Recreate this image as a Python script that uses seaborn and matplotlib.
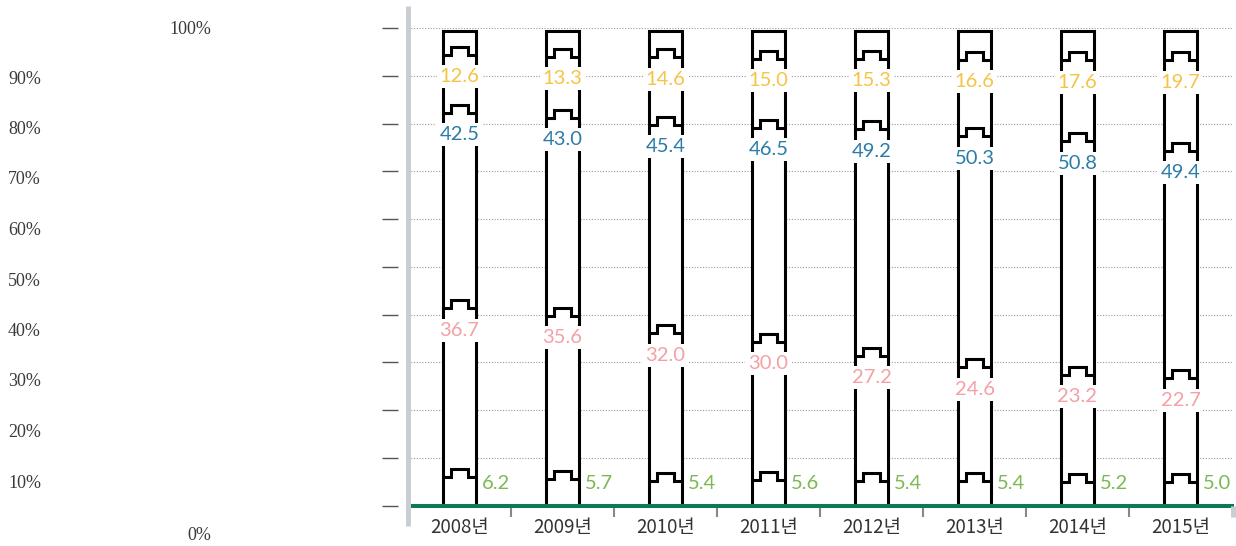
import numpy as np
import matplotlib
matplotlib.use("Agg")
import matplotlib.pyplot as plt
from matplotlib.lines import Line2D
import seaborn as sns

# ---- data ----
years = ["2008년", "2009년", "2010년", "2011년", "2012년", "2013년", "2014년", "2015년"]
green = [6.2, 5.7, 5.4, 5.6, 5.4, 5.4, 5.2, 5.0]
pink = [36.7, 35.6, 32.0, 30.0, 27.2, 24.6, 23.2, 22.7]
blue = [42.5, 43.0, 45.4, 46.5, 49.2, 50.3, 50.8, 49.4]
yellow = [12.6, 13.3, 14.6, 15.0, 15.3, 16.6, 17.6, 19.7]
ytick_labels = ["100%", "90%", "80%", "70%", "60%", "50%", "40%", "30%", "20%", "10%", "0%"]

# ---- style / layout ----
W, H = 1236, 546
TOP = 103.8          # axis top (px scale of the bars)
FRAME_TOP = 103.15   # top cap of each bar frame
TAB_H = 1.74
BAR_W = 0.32
TAB_W = 0.52 * BAR_W
LW = 2.2
C_GREEN, C_PINK, C_BLUE, C_YEL = "#7cb954", "#f3a0a6", "#2b7ca7", "#f5c445"
VAL_FONT = dict(fontsize=14.5, family=["Lato", "DejaVu Sans"], fontweight="normal")

sns.set_theme(style="white")
plt.rcParams["font.family"] = ["Noto Sans CJK KR", "DejaVu Sans"]

fig = plt.figure(figsize=(W / 100, H / 100), dpi=100)
ax = fig.add_axes([408 / W, (H - 505.5) / H, (1232 - 408) / W, 477.5 / H])

# frame of each bar
sns.barplot(x=years, y=[FRAME_TOP] * len(years), color="white", edgecolor="black",
            linewidth=LW, width=BAR_W, saturation=1, ax=ax, zorder=2)

# segment boundaries with tabs + labels
series = [(green, C_GREEN), (pink, C_PINK), (blue, C_BLUE), (yellow, C_YEL)]
cum = np.zeros(len(years))
for k, (vals, col) in enumerate(series):
    cum = cum + np.array(vals)
    for i, (c, v) in enumerate(zip(cum, vals)):
        xs = [i - BAR_W / 2, i - TAB_W / 2, i - TAB_W / 2, i + TAB_W / 2, i + TAB_W / 2, i + BAR_W / 2]
        ys = [c, c, c + TAB_H, c + TAB_H, c, c]
        ax.plot(xs, ys, color="black", lw=LW, solid_joinstyle="miter", solid_capstyle="butt", zorder=3)
        if k == 0:
            ax.text(i + 0.215, 4.8, f"{v:.1f}", ha="left", va="center", color=col,
                    zorder=5, **VAL_FONT)
        else:
            ax.text(i, c - 4.8, f"{v:.1f}", ha="center", va="center", color=col,
                    zorder=5, bbox=dict(facecolor="white", edgecolor="none", pad=2.2),
                    **VAL_FONT)

ax.set_ylim(0, TOP)
ax.set_xlim(-0.5, len(years) - 0.5)
ax.set_yticks(np.linspace(0, TOP, 11))
ax.set_yticklabels([])
ax.yaxis.grid(True, linestyle=(0, (1, 1.5)), color="#9a9a9a", lw=0.8)
ax.xaxis.grid(False)
ax.set_axisbelow(True)
ax.tick_params(axis="y", which="major", direction="out", length=11.5, width=1.0,
               color="#555555", left=True)
for s in ["top", "right"]:
    ax.spines[s].set_visible(False)
ax.spines["left"].set_position(("outward", 7))
ax.spines["left"].set_visible(False)
ax.spines["bottom"].set_color("#0b7a55")
ax.spines["bottom"].set_linewidth(2.9)
ax.spines["bottom"].set_zorder(4)

ax.set_xticks(range(len(years)))
ax.set_xticklabels(years)
ax.set_xticks(np.arange(0.5, len(years) - 1, 1), minor=True)
ax.tick_params(axis="x", which="major", length=0, pad=8, labelsize=13.5, labelcolor="#333333")
ax.tick_params(axis="x", which="minor", direction="out", length=8, width=1.5, color="#888888", bottom=True)
ax.set_xlabel("")
ax.set_ylabel("")

# grey left bar and right end piece
fig.add_artist(Line2D([407.7 / W] * 2, [1 - 6 / H, 1 - 526 / H], transform=fig.transFigure,
                      lw=3.6, color="#c9ced3", solid_capstyle="butt"))
fig.add_artist(Line2D([1232.5 / W] * 2, [1 - 506 / H, 1 - 517 / H], transform=fig.transFigure,
                      lw=3.6, color="#c9ced3", solid_capstyle="butt"))

# odd-positioned y labels (as in the reference)
lab_y = [29] + list(np.linspace(79, 483, 9)) + [535]
for j, (t, yy) in enumerate(zip(ytick_labels, lab_y)):
    if j == 0 or j == len(ytick_labels) - 1:
        fig.text(211 / W, 1 - yy / H, t, ha="right", va="center", fontsize=13,
                 family=["Liberation Serif", "DejaVu Serif"], color="#3a3a3a")
    else:
        fig.text(8 / W, 1 - yy / H, t, ha="left", va="center", fontsize=13,
                 family=["Liberation Serif", "DejaVu Serif"], color="#3a3a3a")

fig.savefig("out.png", dpi=100)
